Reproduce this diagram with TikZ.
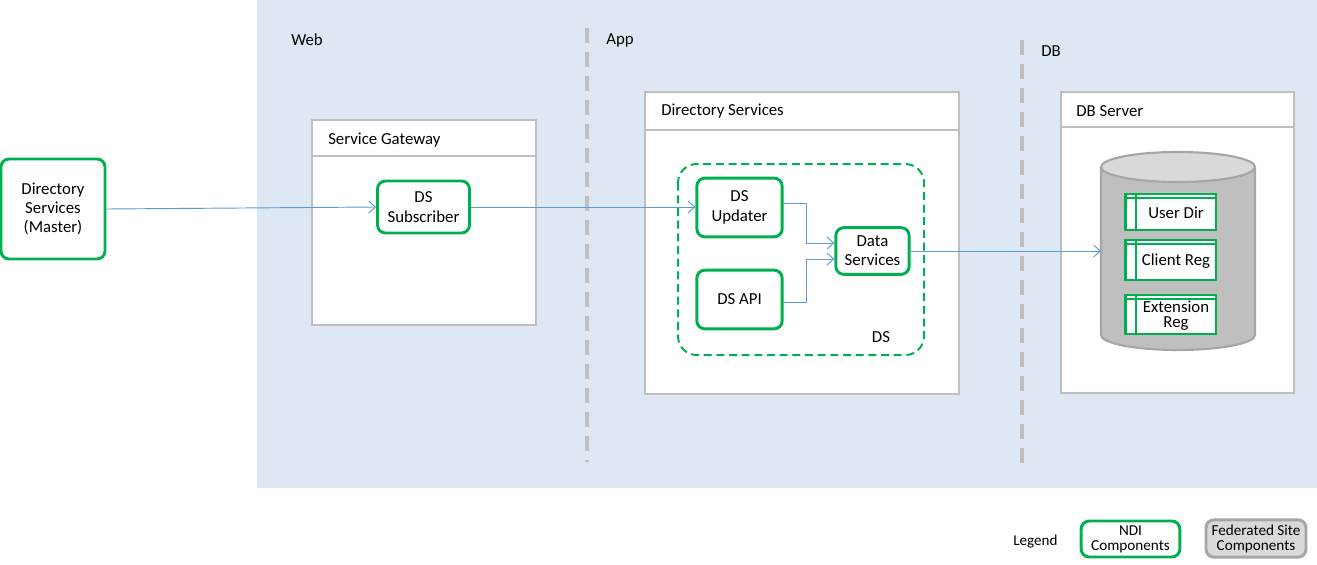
\documentclass[tikz,border=0pt]{standalone}
\usepackage{fontspec}
\setmainfont{Carlito}
\usetikzlibrary{arrows.meta,shapes.geometric}
\definecolor{bgblue}{RGB}{222,232,244}
\definecolor{ndigreen}{RGB}{0,176,80}
\definecolor{boxgray}{RGB}{191,191,191}
\definecolor{cylgray}{RGB}{191,191,191}
\definecolor{cyltop}{RGB}{217,217,217}
\definecolor{cylline}{RGB}{166,166,166}
\definecolor{linkblue}{RGB}{91,155,213}
\begin{document}
\begin{tikzpicture}[x=0.75pt,y=-0.75pt,
  every node/.style={font=\fontsize{12.6pt}{14.5pt}\selectfont, text=black},
  ndi/.style={draw=ndigreen, line width=2.2pt, rounded corners=6pt, fill=white, align=center, inner sep=0pt},
  tier/.style={draw=boxgray, line width=2.2pt, fill=white},
  divider/.style={draw=boxgray, line width=2.4pt, dash pattern=on 11pt off 7pt},
  link/.style={draw=linkblue, line width=0.7pt, -{Straight Barb[length=5pt,width=9pt]}},
  tbl/.style={draw=ndigreen, line width=2pt, fill=white, align=center, inner sep=0pt},
  lbl/.style={anchor=west, inner sep=0pt}]
\useasboundingbox (0,0) rectangle (1317,564);
\fill[white] (0,0) rectangle (1317,564);
\fill[bgblue] (257,0) rectangle (1317,488);
% tier labels
\node[lbl] (web) at (291,40) {Web};
\node[lbl] (app) at (606,40) {App};
\node[lbl] (db) at (1041,51) {DB};
\draw[divider] (587,28) -- (587,462);
\draw[divider] (1022,40) -- (1022,470);
% Service Gateway
\draw[tier] (312,120) rectangle (536,325);
\draw[boxgray, line width=1pt] (312,156) -- (536,156);
\node[lbl] (sgl) at (328,140.5) {Service Gateway};
% Directory Services box
\draw[tier] (645,92) rectangle (959,394);
\draw[boxgray, line width=1pt] (645,130) -- (959,130);
\node[lbl] (dsl) at (661,111.5) {Directory Services};
% DB Server
\draw[tier] (1061,92) rectangle (1294,393);
\draw[boxgray, line width=1pt] (1061,127) -- (1294,127);
\node[lbl] (dbl) at (1076,111.5) {DB Server};
% DS group
\draw[ndigreen, line width=1.5pt, dash pattern=on 6pt off 3.5pt, rounded corners=14pt] (678,164) rectangle (924,355);
\node (dsg) at (881,337) {DS};
% nodes
\node[ndi, minimum width=78pt, minimum height=75pt] (master) at (53,209) {Directory\\Services\\(Master)};
\node[ndi, minimum width=69pt, minimum height=39pt] (sub) at (423.5,207) {DS\\Subscriber};
\node[ndi, minimum width=64pt, minimum height=44pt] (upd) at (739.5,207.5) {DS\\Updater};
\node[ndi, minimum width=64pt, minimum height=44pt] (api) at (739.5,299.5) {DS API};
\node[ndi, minimum width=55pt, minimum height=35pt] (data) at (872.5,251) {Data\\Services};
% cylinder
\fill[cylgray] (1101,167) -- (1101,335) arc[start angle=180,end angle=0,x radius=77,y radius=15] -- (1255,167) -- cycle;
\draw[cylline, line width=1.6pt] (1101,167) -- (1101,335) arc[start angle=180,end angle=0,x radius=77,y radius=15] -- (1255,167);
\draw[cylline, line width=1.6pt, fill=cyltop] (1178,167) ellipse[x radius=77, y radius=15];
\coordinate (cylw) at (1101,251);
% tables
\foreach \n/\ya/\yb/\t in {ud/194/230/{User Dir}, cr/240/280/{Client Reg}, er/295/334/{Extension\\[-3.5pt]Reg}}{
  \node[tbl, minimum width=68pt, minimum height={(\yb-\ya)*0.75pt}] (\n) at (1170.5,{(\ya+\yb)/2}) {};
  \draw[ndigreen, line width=1pt] (1136,\ya) -- (1136,\yb);
  \draw[ndigreen, line width=1pt] (1125,\ya+4) -- (1216,\ya+4);
  \node[align=center, inner sep=0pt] at (1176,{(\ya+\yb)/2+1}) {\t};
}
% connectors
\draw[link] (master.east) -- (sub.west);
\draw[link] (sub.east) -- (sub.east -| upd.west);
\draw[link] (upd.east |- 0,203) -- (806,203) -- (806,243) -- (data.west |- 0,243);
\draw[link] (api.east |- 0,302) -- (806,302) -- (806,259) -- (data.west |- 0,259);
\draw[link] (data.east) -- (cylw);
% legend
\node[lbl] (leg) at (1013,542) {\fontsize{11.3pt}{13pt}\selectfont Legend};
\node[ndi, font=\fontsize{11.4pt}{11.3pt}\selectfont, minimum width=74pt, minimum height=27pt] (lndi) at (1130.5,539) {NDI\\Components};
\node[draw=cylline, fill=cyltop, line width=2.2pt, rounded corners=6pt, align=center, inner sep=0pt, font=\fontsize{11.4pt}{11.3pt}\selectfont, minimum width=75pt, minimum height=28pt] (lfed) at (1256,538.5) {Federated Site\\Components};
\end{tikzpicture}
\end{document}
